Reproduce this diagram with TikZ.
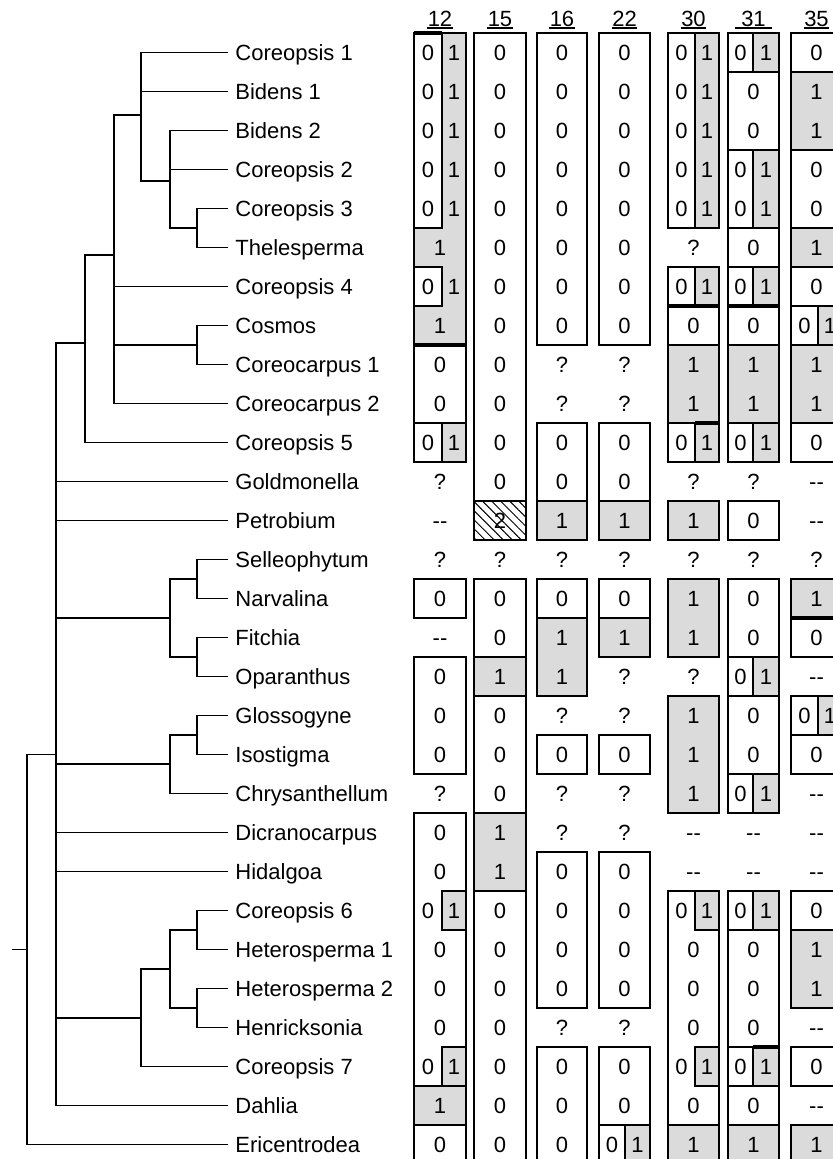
\documentclass[tikz,border=0pt]{standalone}
\usepackage{fontspec}
\setmainfont{Liberation Sans}
\usepackage{ifthen}
\usetikzlibrary{patterns.meta}
\definecolor{cellgrey}{gray}{0.86}
\newcommand\dashpair{{-}{-}}
\tikzset{
  branch/.style={line width=0.9pt},
  taxon/.style={anchor=west, inner xsep=3.5pt, inner ysep=0pt, text height=7.9pt, text depth=0pt, font=\fontsize{11}{13}\selectfont},
  state/.style={inner sep=0pt, text height=7.9pt, text depth=0pt, font=\fontsize{11}{13}\selectfont},
  cellbox/.style={draw, line width=0.85pt},
  seam/.style={line width=1.8pt},
  underl/.style={line width=0.6pt}
}
% name, centre x, left x, right x, states of rows 1..29
\newcommand\statecol[5]{%
  \foreach \s [count=\i] in {#5}
    {\ifthenelse{\equal{\s}{p}}
      {\node[state] (#1-\i-0) at (#3,\i) {0}; \node[state] (#1-\i-1) at (#4,\i) {1};}
      {\node[state] (#1-\i) at (#2,\i) {\s};}}}
\begin{document}
\begin{tikzpicture}[x=0.5pt, y=-19.5pt]
  \useasboundingbox (0,-0.3462) rectangle (833,29.372);
  \clip (0,-0.3462) rectangle (833,29.372);

  \foreach \xl/\xr/\ra/\rb/\f in {
    414/466/1/8/cellgrey, 414/442/1/5/white, 414/442/7/7/white,
    414/466/9/11/white, 414/442/11/11/white, 442/466/11/11/cellgrey,
    414/466/15/15/white, 414/466/17/19/white, 414/466/21/30/white,
    442/466/23/23/cellgrey, 442/466/27/27/cellgrey, 414/466/28/28/cellgrey,
    474/526/1/13/white, 474/526/15/30/white, 474/526/17/17/cellgrey, 474/526/21/22/cellgrey,
    537/587/1/8/white, 537/587/11/13/white, 537/587/13/13/cellgrey,
    537/587/15/17/white, 537/587/16/17/cellgrey, 537/587/19/19/white,
    537/587/22/25/white, 537/587/27/30/white,
    599/650/1/8/white, 599/650/11/13/white, 599/650/13/13/cellgrey,
    599/650/15/16/white, 599/650/16/16/cellgrey, 599/650/19/19/white,
    599/650/22/25/white, 599/650/27/30/white, 599/625/29/30/white, 625/650/29/30/cellgrey,
    668/695/1/5/white, 695/719/1/5/cellgrey, 668/719/7/11/white,
    668/695/7/7/white, 695/719/7/7/cellgrey, 668/719/9/10/cellgrey,
    668/695/11/11/white, 695/719/11/11/cellgrey, 668/719/13/13/cellgrey,
    668/719/15/16/cellgrey, 668/719/18/20/cellgrey, 668/719/23/30/white,
    695/719/23/23/cellgrey, 695/719/27/27/cellgrey, 668/719/29/30/cellgrey,
    728/753/1/1/white, 753/779/1/1/cellgrey, 728/779/2/3/white,
    728/753/4/5/white, 753/779/4/5/cellgrey, 728/779/6/6/white,
    728/753/7/7/white, 753/779/7/7/cellgrey, 728/779/8/8/white,
    728/779/9/10/cellgrey, 728/753/11/11/white, 753/779/11/11/cellgrey,
    728/779/13/13/white, 728/779/15/16/white, 728/753/17/17/white,
    753/779/17/17/cellgrey, 728/779/18/19/white, 728/753/20/20/white,
    753/779/20/20/cellgrey, 728/753/23/23/white, 753/779/23/23/cellgrey,
    728/779/24/26/white, 728/753/27/27/white, 753/779/27/27/cellgrey,
    728/779/28/28/white, 728/779/29/30/cellgrey,
    791/842/1/1/white, 791/842/2/3/cellgrey, 791/842/4/5/white,
    791/842/6/6/cellgrey, 791/842/7/7/white, 791/818/8/8/white,
    818/842/8/8/cellgrey, 791/842/9/10/cellgrey, 791/842/11/11/white,
    791/842/15/15/cellgrey, 791/842/16/16/white, 791/818/18/18/white,
    818/842/18/18/cellgrey, 791/842/19/19/white, 791/842/23/23/white,
    791/842/24/25/cellgrey, 791/842/27/27/white, 791/842/29/30/cellgrey}
    \draw[cellbox, fill=\f] (\xl,\ra-0.5) rectangle (\xr,\rb+0.5);
  \draw[cellbox, pattern={Lines[angle=-45,distance=3.2pt,line width=0.5pt]}] (474,12.5) rectangle (526,13.5);
  \foreach \xl/\xr/\r in {414/442/0.5, 414/466/8.5, 668/719/7.5, 728/779/7.5,
    695/719/10.5, 753/779/26.5, 791/842/15.5}
    \draw[seam] (\xl,\r) -- (\xr,\r);

  \foreach \c/\x/\w in {12/440/0pt, 15/500/0pt, 16/562/0pt, 22/624.5/0pt, 30/693.5/0pt, 31/753.5/3pt, 35/816.5/0pt}
    {\node[state, inner xsep=\w] (h\c) at (\x,0.13) {\c};
     \draw[underl] ([yshift=-0.6pt]h\c.south west) -- ([yshift=-0.6pt]h\c.south east);}

  \statecol{c12}{440}{428}{454}{p,p,p,p,p,1,p,1,0,0,p,?,\dashpair,?,0,\dashpair,0,0,0,?,0,0,p,0,0,0,p,1,0}
  \statecol{c15}{500}{488}{512}{0,0,0,0,0,0,0,0,0,0,0,0,2,?,0,0,1,0,0,0,1,1,0,0,0,0,0,0,0}
  \statecol{c16}{562}{550}{574}{0,0,0,0,0,0,0,0,?,?,0,0,1,?,0,1,1,?,0,?,?,0,0,0,0,?,0,0,0}
  \statecol{c22}{624.5}{612}{637.5}{0,0,0,0,0,0,0,0,?,?,0,0,1,?,0,1,?,?,0,?,?,0,0,0,0,?,0,0,p}
  \statecol{c30}{693.5}{681.5}{707}{p,p,p,p,p,?,p,0,1,1,p,?,1,?,1,1,?,1,1,1,\dashpair,\dashpair,p,0,0,0,p,0,1}
  \statecol{c31}{753.5}{740.5}{766}{p,0,0,p,p,0,p,0,1,1,p,?,0,?,0,0,p,0,0,p,\dashpair,\dashpair,p,0,0,0,p,0,1}
  \statecol{c35}{816.5}{804.5}{830}{0,1,1,0,0,1,0,p,1,1,0,\dashpair,\dashpair,?,1,0,\dashpair,p,0,\dashpair,\dashpair,\dashpair,0,1,1,\dashpair,0,\dashpair,1}

  \foreach \n [count=\i] in {Coreopsis 1,Bidens 1,Bidens 2,Coreopsis 2,Coreopsis 3,Thelesperma,
    Coreopsis 4,Cosmos,Coreocarpus 1,Coreocarpus 2,Coreopsis 5,Goldmonella,Petrobium,
    Selleophytum,Narvalina,Fitchia,Oparanthus,Glossogyne,Isostigma,Chrysanthellum,
    Dicranocarpus,Hidalgoa,Coreopsis 6,Heterosperma 1,Heterosperma 2,Henricksonia,
    Coreopsis 7,Dahlia,Ericentrodea}
    \node[taxon] (t\i) at (228,\i) {\n};

  \coordinate (a1) at (197,5.5);
  \coordinate (b1) at (170,4.3);
  \coordinate (c1) at (141,2.6);
  \coordinate (a2) at (197,8.5);
  \coordinate (d1) at (114,6.2);
  \coordinate (e1) at (85,8.45);
  \coordinate (a3) at (197,14.5);
  \coordinate (a4) at (197,16.5);
  \coordinate (b2) at (170,15.5);
  \coordinate (a5) at (197,18.5);
  \coordinate (b3) at (170,19.25);
  \coordinate (a6) at (197,23.5);
  \coordinate (a7) at (197,25.5);
  \coordinate (b4) at (170,24.5);
  \coordinate (c2) at (141,25.75);
  \coordinate (f1) at (56,19);
  \coordinate (g1) at (27,24);
  \coordinate (root) at (12,24);

  \draw[branch] (t5.west) -| (a1) |- (t6.west);
  \draw[branch] (t3.west) -| (b1) |- (a1);
  \draw[branch] (t4.west) -- (t4.west -| b1);
  \draw[branch] (t1.west) -| (c1) |- (b1);
  \draw[branch] (t2.west) -- (t2.west -| c1);
  \draw[branch] (t8.west) -| (a2) |- (t9.west);
  \draw[branch] (c1) -| (d1) |- (t10.west);
  \draw[branch] (t7.west) -- (t7.west -| d1);
  \draw[branch] (a2) -- (a2 -| d1);
  \draw[branch] (d1) -| (e1) |- (t11.west);
  \draw[branch] (t14.west) -| (a3) |- (t15.west);
  \draw[branch] (t16.west) -| (a4) |- (t17.west);
  \draw[branch] (a3) -| (b2) |- (a4);
  \draw[branch] (t18.west) -| (a5) |- (t19.west);
  \draw[branch] (a5) -| (b3) |- (t20.west);
  \draw[branch] (t23.west) -| (a6) |- (t24.west);
  \draw[branch] (t25.west) -| (a7) |- (t26.west);
  \draw[branch] (a6) -| (b4) |- (a7);
  \draw[branch] (b4) -| (c2) |- (t27.west);
  \draw[branch] (e1) -| (f1) |- (t28.west);
  \foreach \k in {t12.west,t13.west,b2,b3,t21.west,t22.west,c2}
    \draw[branch] (\k) -- (\k -| f1);
  \draw[branch] (f1) -| (g1) |- (t29.west);
  \draw[branch] (root) -- (g1);
\end{tikzpicture}
\end{document}
